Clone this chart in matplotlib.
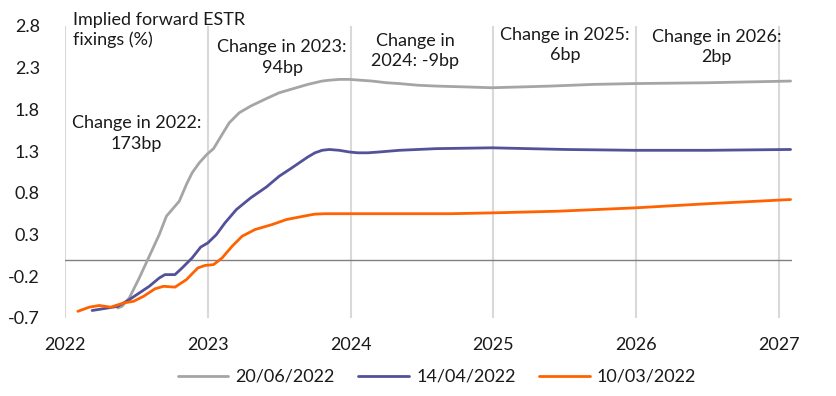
import matplotlib
matplotlib.use("Agg")
import matplotlib.pyplot as plt

plt.rcParams['font.family'] = ['Lato', 'DejaVu Sans']

# Data (x in decimal years)
grey_x = [2022.37, 2022.40, 2022.45, 2022.52, 2022.59, 2022.66, 2022.71, 2022.76, 2022.80, 2022.85,
          2022.89, 2022.94, 2022.993, 2023.04, 2023.10, 2023.15, 2023.22, 2023.30, 2023.41, 2023.50,
          2023.58, 2023.64, 2023.70, 2023.75, 2023.80, 2023.85, 2023.92, 2023.99, 2024.07, 2024.15,
          2024.25, 2024.34, 2024.47, 2024.60, 2024.80, 2024.99, 2025.20, 2025.40, 2025.70, 2025.99,
          2026.50, 2027.08]
grey_y = [-0.58, -0.56, -0.46, -0.22, 0.04, 0.30, 0.52, 0.62, 0.70, 0.90,
          1.04, 1.16, 1.26, 1.33, 1.50, 1.64, 1.76, 1.84, 1.93, 2.00,
          2.04, 2.07, 2.10, 2.12, 2.14, 2.15, 2.16, 2.16, 2.15, 2.14,
          2.12, 2.11, 2.09, 2.08, 2.07, 2.06, 2.07, 2.08, 2.10, 2.11,
          2.12, 2.14]

blue_x = [2022.19, 2022.30, 2022.37, 2022.45, 2022.52, 2022.59, 2022.66, 2022.70, 2022.77, 2022.82,
          2022.89, 2022.95, 2023.00, 2023.06, 2023.12, 2023.20, 2023.30, 2023.41, 2023.50, 2023.58,
          2023.64, 2023.70, 2023.75, 2023.80, 2023.85, 2023.92, 2023.99, 2024.05, 2024.12, 2024.20,
          2024.34, 2024.60, 2024.99, 2025.50, 2025.99, 2026.50, 2027.08]
blue_y = [-0.61, -0.58, -0.56, -0.48, -0.40, -0.32, -0.22, -0.18, -0.18, -0.10,
          0.02, 0.15, 0.20, 0.30, 0.44, 0.60, 0.74, 0.87, 1.00, 1.09,
          1.16, 1.23, 1.28, 1.31, 1.32, 1.31, 1.29, 1.28, 1.28, 1.29,
          1.31, 1.33, 1.34, 1.32, 1.31, 1.31, 1.32]

orange_x = [2022.09, 2022.17, 2022.24, 2022.32, 2022.41, 2022.48, 2022.55, 2022.63, 2022.69, 2022.77,
            2022.85, 2022.93, 2022.98, 2023.04, 2023.10, 2023.17, 2023.24, 2023.33, 2023.45, 2023.55,
            2023.64, 2023.70, 2023.75, 2023.82, 2023.90, 2023.99, 2024.34, 2024.70, 2024.99, 2025.45,
            2025.99, 2026.50, 2027.08]
orange_y = [-0.62, -0.57, -0.55, -0.57, -0.52, -0.50, -0.44, -0.35, -0.32, -0.33,
            -0.24, -0.10, -0.07, -0.06, 0.02, 0.16, 0.28, 0.36, 0.42, 0.48,
            0.51, 0.53, 0.545, 0.55, 0.55, 0.55, 0.55, 0.55, 0.56, 0.58,
            0.62, 0.67, 0.72]

series = [("20/06/2022", grey_x, grey_y, "#A5A5A5"),
          ("14/04/2022", blue_x, blue_y, "#525199"),
          ("10/03/2022", orange_x, orange_y, "#FF6200")]

years = [2022, 2023, 2024, 2025, 2026, 2027]
yticks = [-0.7, -0.2, 0.3, 0.8, 1.3, 1.8, 2.3, 2.8]

annotations = [
    ("Change in 2022:\n173bp", 2022.50, 1.51),
    ("Change in 2023:\n94bp", 2023.52, 2.42),
    ("Change in\n2024: -9bp", 2024.45, 2.50),
    ("Change in 2025:\n6bp", 2025.50, 2.57),
    ("Change in 2026:\n2bp", 2026.56, 2.55),
]

FS = 13

fig = plt.figure(figsize=(8.37, 3.96), dpi=100)
ax = fig.add_axes([65/837, 1-318/396, (792-65)/837, (318-26)/396])

txt = "#1a1a1a"
for yr in years:
    ax.axvline(yr, color="#D9D9D9", lw=1.5, zorder=1)
ax.axhline(0, color="#808080", lw=1.0, zorder=1)

for label, xs, ys, c in series:
    ax.plot(xs, ys, color=c, lw=2.0, label=label, zorder=3,
            solid_joinstyle="round", solid_capstyle="round")

ax.set_xlim(2022, 2027.09)
ax.set_ylim(-0.7, 2.8)
ax.set_xticks(years)
ax.set_xticklabels([str(y) for y in years])
ax.set_yticks(yticks)
ax.set_yticklabels([f"{v:.1f}" for v in yticks])
ax.tick_params(axis='both', length=0, labelsize=FS, colors=txt)
ax.tick_params(axis='x', pad=14)
ax.tick_params(axis='y', pad=18)
for s in ax.spines.values():
    s.set_visible(False)

ax.text(2022.056, 2.97, "Implied forward ESTR\nfixings (%)", ha="left", va="top",
        fontsize=FS, color=txt, linespacing=1.3, clip_on=False)
for t, x, y in annotations:
    ax.text(x, y, t, ha="center", va="center", fontsize=FS, color=txt,
            linespacing=1.35, clip_on=False)

leg = fig.legend(loc="center", bbox_to_anchor=(437/837, 1-377/396), ncol=3, frameon=False,
                 fontsize=FS, handlelength=2.8, columnspacing=1.3, handletextpad=0.4)
for t in leg.get_texts():
    t.set_color(txt)

fig.savefig("out.png", dpi=100)
